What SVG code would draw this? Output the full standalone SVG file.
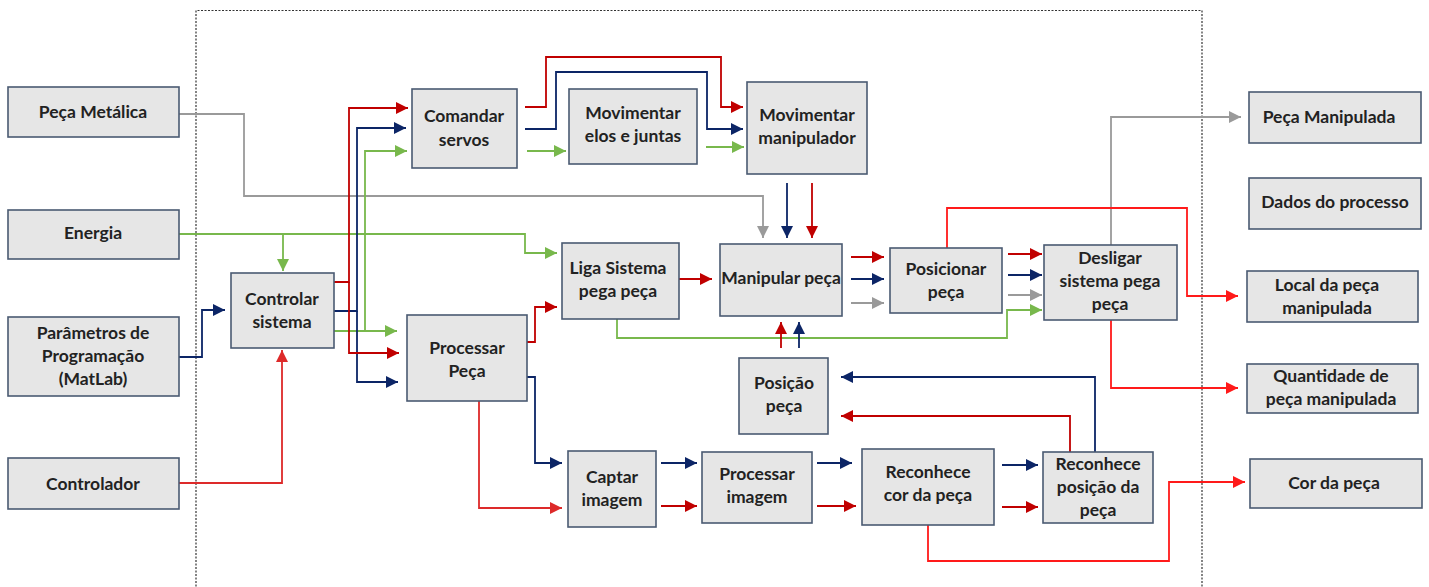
<svg xmlns="http://www.w3.org/2000/svg" width="1429" height="587" viewBox="0 0 1429 587">
<style>
.n rect{fill:#e6e6e6;stroke:#4a5a72;stroke-width:1.6}
.n text{font-family:Lato,"Open Sans","Liberation Sans",sans-serif;font-weight:700;font-size:17.5px;fill:#222;text-anchor:middle}
.c polyline{fill:none;stroke-width:1.8}
.dr{stroke:#c00000}
.lr{stroke:#dd2a2a}
.br{stroke:#ff1a1a}
.bl{stroke:#0c2566}
.gr{stroke:#78b84c}
.gy{stroke:#9a9a9a}
.frame{fill:none;stroke:#333;stroke-width:1.2;stroke-dasharray:2 1.5}
</style>
<defs>
<marker id="aDR" viewBox="0 0 12 12" refX="12" refY="6" markerWidth="12" markerHeight="12" markerUnits="userSpaceOnUse" orient="auto"><path d="M0,0L12,6L0,12z" fill="#c00000"/></marker>
<marker id="aLR" viewBox="0 0 12 12" refX="12" refY="6" markerWidth="12" markerHeight="12" markerUnits="userSpaceOnUse" orient="auto"><path d="M0,0L12,6L0,12z" fill="#dd2a2a"/></marker>
<marker id="aBR" viewBox="0 0 12 12" refX="12" refY="6" markerWidth="12" markerHeight="12" markerUnits="userSpaceOnUse" orient="auto"><path d="M0,0L12,6L0,12z" fill="#ff1a1a"/></marker>
<marker id="aBL" viewBox="0 0 12 12" refX="12" refY="6" markerWidth="12" markerHeight="12" markerUnits="userSpaceOnUse" orient="auto"><path d="M0,0L12,6L0,12z" fill="#0c2566"/></marker>
<marker id="aGR" viewBox="0 0 12 12" refX="12" refY="6" markerWidth="12" markerHeight="12" markerUnits="userSpaceOnUse" orient="auto"><path d="M0,0L12,6L0,12z" fill="#78b84c"/></marker>
<marker id="aGY" viewBox="0 0 12 12" refX="12" refY="6" markerWidth="12" markerHeight="12" markerUnits="userSpaceOnUse" orient="auto"><path d="M0,0L12,6L0,12z" fill="#9a9a9a"/></marker>
</defs>
<rect width="1429" height="587" fill="#fff"/>
<path class="frame" d="M196,590V10.5H1202V590"/>

<g id="connectors" class="c">
<!-- gray -->
<polyline class="gy" points="179,114 244,114 244,196 763,196 763,238" marker-end="url(#aGY)"/>
<polyline class="gy" points="851,303 884,303" marker-end="url(#aGY)"/>
<polyline class="gy" points="1008,295 1042,295" marker-end="url(#aGY)"/>
<polyline class="gy" points="1111,245 1111,117 1241,117" marker-end="url(#aGY)"/>
<!-- green -->
<polyline class="gr" points="179,234 525,234 525,253 557,253" marker-end="url(#aGR)"/>
<polyline class="gr" points="283,234 283,271" marker-end="url(#aGR)"/>
<polyline class="gr" points="334,331 397,331" marker-end="url(#aGR)"/>
<polyline class="gr" points="365,331 365,151 407,151" marker-end="url(#aGR)"/>
<polyline class="gr" points="527,151 566,151" marker-end="url(#aGR)"/>
<polyline class="gr" points="706,147 744,147" marker-end="url(#aGR)"/>
<polyline class="gr" points="617,319 617,338 1007,338 1007,310 1042,310" marker-end="url(#aGR)"/>
<!-- blue -->
<polyline class="bl" points="179,357 202,357 202,310 225,310" marker-end="url(#aBL)"/>
<polyline class="bl" points="334,311 357,311 357,128 406,128" marker-end="url(#aBL)"/>
<polyline class="bl" points="357,311 357,382 398,382" marker-end="url(#aBL)"/>
<polyline class="bl" points="525,129 556,129 556,72 707,72 707,129 743,129" marker-end="url(#aBL)"/>
<polyline class="bl" points="787,183 787,238" marker-end="url(#aBL)"/>
<polyline class="bl" points="851,279 884,279" marker-end="url(#aBL)"/>
<polyline class="bl" points="1008,275 1042,275" marker-end="url(#aBL)"/>
<polyline class="bl" points="527,377 535,377 535,463 562,463" marker-end="url(#aBL)"/>
<polyline class="bl" points="661,463 697,463" marker-end="url(#aBL)"/>
<polyline class="bl" points="817,463 852,463" marker-end="url(#aBL)"/>
<polyline class="bl" points="1002,465 1038,465" marker-end="url(#aBL)"/>
<polyline class="bl" points="1095,452 1095,377 841,377" marker-end="url(#aBL)"/>
<polyline class="bl" points="799,348 799,322" marker-end="url(#aBL)"/>
<!-- dark red -->
<polyline class="lr" points="179,483 282,483 282,350" marker-end="url(#aLR)"/>
<polyline class="dr" points="334,282 349,282 349,108 408,108" marker-end="url(#aDR)"/>
<polyline class="dr" points="349,282 349,353 399,353" marker-end="url(#aDR)"/>
<polyline class="dr" points="525,107 546,107 546,57 721,57 721,107 743,107" marker-end="url(#aDR)"/>
<polyline class="dr" points="812,183 812,238" marker-end="url(#aDR)"/>
<polyline class="dr" points="679,279 712,279" marker-end="url(#aDR)"/>
<polyline class="dr" points="851,257 884,257" marker-end="url(#aDR)"/>
<polyline class="dr" points="1008,254 1042,254" marker-end="url(#aDR)"/>
<polyline class="dr" points="527,342 535,342 535,307 557,307" marker-end="url(#aDR)"/>
<polyline class="lr" points="479,401 479,508 562,508" marker-end="url(#aLR)"/>
<polyline class="dr" points="661,506 697,506" marker-end="url(#aDR)"/>
<polyline class="dr" points="817,506 856,506" marker-end="url(#aDR)"/>
<polyline class="dr" points="1002,507 1038,507" marker-end="url(#aDR)"/>
<polyline class="dr" points="1070,452 1070,416 841,416" marker-end="url(#aDR)"/>
<polyline class="dr" points="781,348 781,322" marker-end="url(#aDR)"/>
<!-- bright red -->
<polyline class="br" points="947,248 947,208 1187,208 1187,296 1238,296" marker-end="url(#aBR)"/>
<polyline class="br" points="1111,320 1111,388 1238,388" marker-end="url(#aBR)"/>
<polyline class="br" points="928,525 928,561 1169,561 1169,482 1245,482" marker-end="url(#aBR)"/>
</g>

<g id="peca-metalica" class="n"><rect x="8" y="87" width="171" height="50"/><text x="93" y="118">Peça Metálica</text></g>
<g id="energia" class="n"><rect x="8" y="210" width="171" height="49"/><text x="93" y="239">Energia</text></g>
<g id="parametros" class="n"><rect x="8" y="317" width="171" height="79"/><text x="93" y="339">Parâmetros de</text><text x="93" y="362">Programação</text><text x="93" y="385">(MatLab)</text></g>
<g id="controlador" class="n"><rect x="8" y="458" width="171" height="51"/><text x="93" y="490">Controlador</text></g>

<g id="controlar-sistema" class="n"><rect x="231" y="273" width="103" height="75"/><text x="282" y="305">Controlar</text><text x="282" y="328">sistema</text></g>
<g id="comandar-servos" class="n"><rect x="412" y="89" width="105" height="79"/><text x="464" y="122">Comandar</text><text x="464" y="146">servos</text></g>
<g id="movimentar-elos" class="n"><rect x="569" y="89" width="128" height="75"/><text x="633" y="119">Movimentar</text><text x="633" y="142">elos e juntas</text></g>
<g id="movimentar-manipulador" class="n"><rect x="747" y="82" width="120" height="92"/><text x="807" y="121">Movimentar</text><text x="807" y="144">manipulador</text></g>
<g id="liga-sistema" class="n"><rect x="562" y="243" width="117" height="76"/><text x="618" y="274">Liga Sistema</text><text x="618" y="297">pega peça</text></g>
<g id="manipular-peca" class="n"><rect x="720" y="244" width="122" height="72"/><text x="781" y="284">Manipular peça</text></g>
<g id="posicionar-peca" class="n"><rect x="890" y="248" width="112" height="65"/><text x="946" y="275">Posicionar</text><text x="946" y="298">peça</text></g>
<g id="desligar" class="n"><rect x="1044" y="245" width="133" height="75"/><text x="1110" y="264">Desligar</text><text x="1110" y="287">sistema pega</text><text x="1110" y="310">peça</text></g>
<g id="processar-peca" class="n"><rect x="407" y="315" width="120" height="86"/><text x="467" y="354">Processar</text><text x="467" y="377">Peça</text></g>
<g id="posicao-peca" class="n"><rect x="739" y="358" width="89" height="76"/><text x="784" y="389">Posição</text><text x="784" y="412">peça</text></g>
<g id="captar-imagem" class="n"><rect x="568" y="451" width="88" height="76"/><text x="612" y="483">Captar</text><text x="612" y="506">imagem</text></g>
<g id="processar-imagem" class="n"><rect x="702" y="452" width="110" height="71"/><text x="757" y="480">Processar</text><text x="757" y="503">imagem</text></g>
<g id="reconhece-cor" class="n"><rect x="862" y="449" width="132" height="76"/><text x="928" y="478">Reconhece</text><text x="928" y="501">cor da peça</text></g>
<g id="reconhece-posicao" class="n"><rect x="1043" y="452" width="110" height="71"/><text x="1098" y="470">Reconhece</text><text x="1098" y="493">posição da</text><text x="1098" y="516">peça</text></g>

<g id="peca-manipulada" class="n"><rect x="1249" y="92" width="172" height="51"/><text x="1329" y="123">Peça Manipulada</text></g>
<g id="dados-processo" class="n"><rect x="1249" y="178" width="172" height="51"/><text x="1335" y="208">Dados do processo</text></g>
<g id="local-peca" class="n"><rect x="1247" y="271" width="171" height="51"/><text x="1327" y="291">Local da peça</text><text x="1327" y="314">manipulada</text></g>
<g id="quantidade" class="n"><rect x="1247" y="364" width="171" height="49"/><text x="1331" y="382">Quantidade de</text><text x="1331" y="405">peça manipulada</text></g>
<g id="cor-peca" class="n"><rect x="1250" y="459" width="172" height="49"/><text x="1334" y="489">Cor da peça</text></g>
</svg>
